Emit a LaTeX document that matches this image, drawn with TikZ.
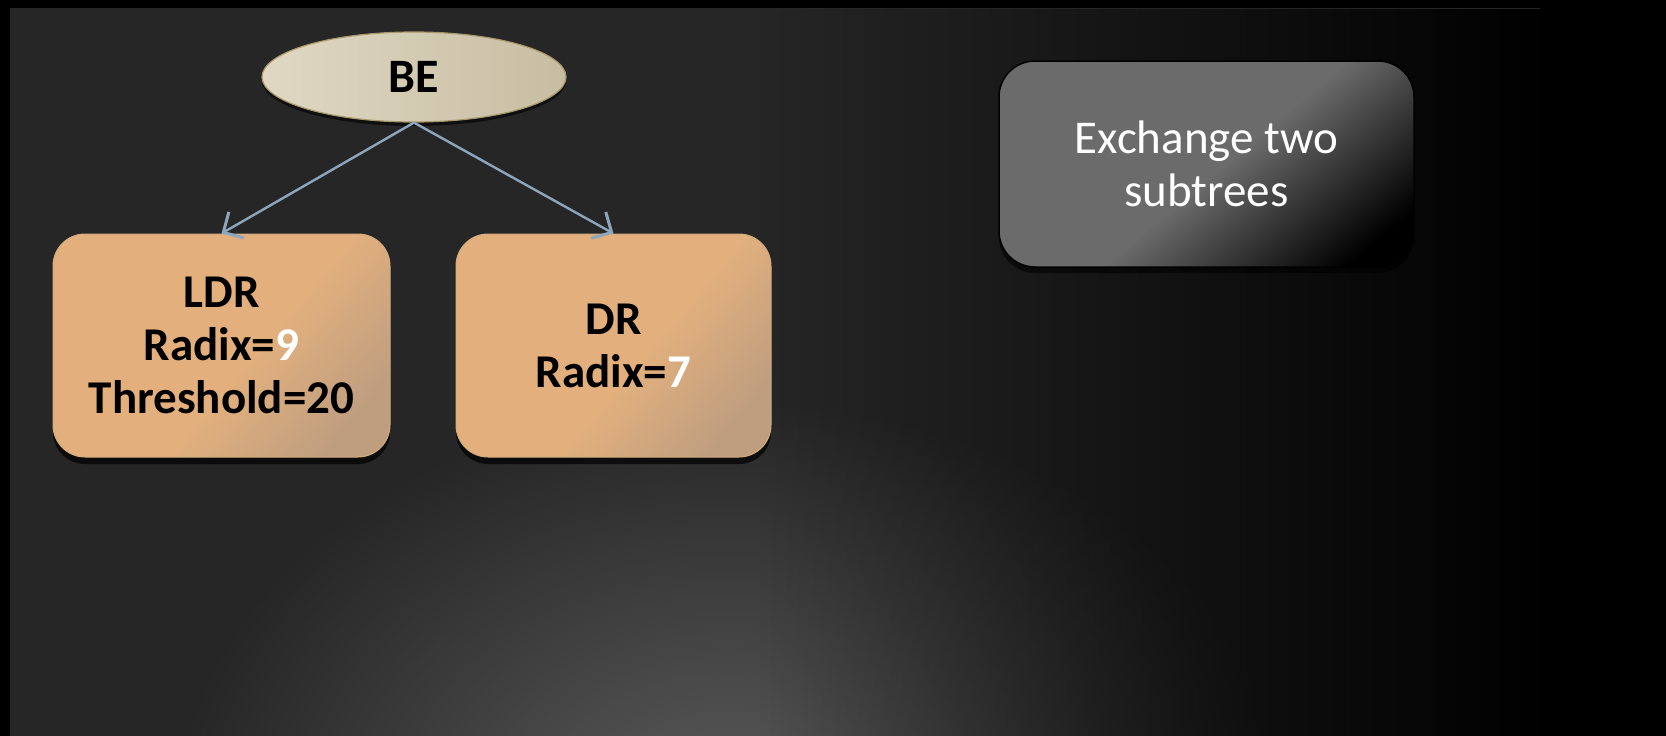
\documentclass[tikz,border=0pt]{standalone}
\usepackage{fontspec}
\setmainfont{Carlito}
\usetikzlibrary{arrows.meta, positioning, shapes.geometric, shadows, fadings}

\definecolor{slidebg}{HTML}{262626}
\definecolor{glowgrey}{HTML}{5C5C5C}
\definecolor{boxtan}{HTML}{E3B07D}
\definecolor{boxdim}{HTML}{BF9E80}
\definecolor{tanline}{HTML}{D3AC7E}
\definecolor{beleft}{HTML}{E0D8C3}
\definecolor{beright}{HTML}{C7BDA2}
\definecolor{beline}{HTML}{A8976A}
\definecolor{notegrey}{HTML}{6B6B6B}
\definecolor{arrowblue}{HTML}{8DA6BC}

\pgfdeclarehorizontalshading{tanfade}{100bp}{color(0bp)=(boxtan); color(55bp)=(boxtan); color(76bp)=(boxdim); color(100bp)=(boxdim)}
\pgfdeclarehorizontalshading{greyfade}{100bp}{color(0bp)=(notegrey); color(52bp)=(notegrey); color(78bp)=(black); color(100bp)=(black)}
\tikzfading[name=darkright, left color=transparent!100, right color=transparent!0]
\tikzfading[name=glowfade, inner color=transparent!0, outer color=transparent!100]

\newcommand{\whitenum}[1]{\textcolor{white}{#1}}

\begin{document}
\begin{tikzpicture}[node distance=3cm, on grid,
  >={Straight Barb[length=15pt,width=30pt,line width=3pt]},
  bigtext/.style={font=\fontsize{47pt}{53pt}\selectfont},
  beoval/.style={ellipse, draw=beline, line width=1.2pt, left color=beleft, right color=beright,
    minimum width=304pt, minimum height=90pt, font=\fontsize{48pt}{53pt}\selectfont\bfseries,
    drop shadow={shadow xshift=0pt, shadow yshift=-4pt, opacity=.6, fill=black}},
  radbox/.style={draw=tanline, line width=1pt, rounded corners=32pt, shading=tanfade, shading angle=-40,
    minimum height=223pt, align=center, font=\fontsize{47pt}{53pt}\selectfont\bfseries,
    drop shadow={shadow xshift=0pt, shadow yshift=-7pt, opacity=.7, fill=black}},
  notebox/.style={draw=black, line width=1.5pt, rounded corners=36pt, shading=greyfade, shading angle=-50,
    minimum width=415pt, minimum height=206pt, align=center, text=white, bigtext,
    drop shadow={shadow xshift=0pt, shadow yshift=-6pt, opacity=.6, fill=black}},
  treearrow/.style={draw=arrowblue, line width=2.4pt}]

\useasboundingbox (0,0) rectangle (1666pt,-736pt);
% slide background
\fill[black] (0,0) rectangle (1666pt,-736pt);
\fill[slidebg] (10pt,-8pt) rectangle (1666pt,-736pt);
\begin{scope}
  \clip (10pt,-8pt) rectangle (1666pt,-736pt);
  \fill[glowgrey, path fading=glowfade] (730pt,-820pt) ellipse [x radius=560pt, y radius=420pt];
\end{scope}
\fill[black, path fading=darkright] (760pt,-8pt) rectangle (1560pt,-736pt);
\fill[black] (1540pt,-8pt) rectangle (1666pt,-736pt);

\node[beoval] (be) at (414pt,-77pt) {BE};
\node[radbox, minimum width=337pt] (ldr) [below left=268.5pt and 192.5pt of be] {LDR\\Radix=\whitenum{9}\\Threshold=20};
\node[radbox, minimum width=315pt] (dr) [right=392pt of ldr] {DR\\Radix=\whitenum{7}};
\node[notebox] (swap) [above right=181.5pt and 593pt of dr] {Exchange two\\subtrees};

\path[->]
  (be.south) edge [treearrow] (ldr.north)
  (be.south) edge [treearrow] (dr.north);

\end{tikzpicture}
\end{document}
